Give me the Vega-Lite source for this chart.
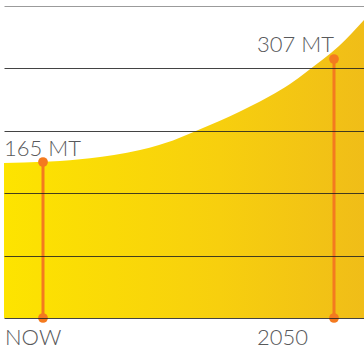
{
  "$schema": "https://vega.github.io/schema/vega-lite/v6.json",
  "autosize": "none",
  "width": 360,
  "height": 312,
  "padding": {"left": 4, "top": 6, "right": 0, "bottom": 31},
  "background": "white",
  "config": {"view": {"stroke": null}},
  "datasets": {
    "curve": [
      {"x": 0, "v": 155},
      {"x": 20, "v": 155.4},
      {"x": 46, "v": 156.4},
      {"x": 66, "v": 157.8},
      {"x": 86, "v": 159.7},
      {"x": 110, "v": 163},
      {"x": 136, "v": 168},
      {"x": 155, "v": 173},
      {"x": 169, "v": 177.5},
      {"x": 186, "v": 184.5},
      {"x": 206, "v": 193},
      {"x": 226, "v": 201.8},
      {"x": 246, "v": 211.5},
      {"x": 266, "v": 222},
      {"x": 286, "v": 234},
      {"x": 303, "v": 246.5},
      {"x": 320, "v": 259.5},
      {"x": 335, "v": 272},
      {"x": 348, "v": 285},
      {"x": 360, "v": 298}
    ],
    "markers": [
      {"period": "NOW", "x": 39, "v": 156, "label": "165 MT"},
      {"period": "2050", "x": 330, "v": 259, "label": "307 MT"}
    ],
    "labels": [
      {"text": "165 MT", "x": 0, "y": 162, "side": "left"},
      {"text": "307 MT", "x": 330, "y": 266, "side": "right"},
      {"text": "NOW", "x": 1, "y": -27, "side": "left"},
      {"text": "2050", "x": 253, "y": -27, "side": "left"}
    ]
  },
  "layer": [
    {
      "data": {"name": "curve"},
      "mark": {
        "type": "area",
        "interpolate": "monotone",
        "color": {
          "gradient": "linear",
          "x1": 0, "y1": 0, "x2": 1, "y2": 0,
          "stops": [
            {"offset": 0, "color": "#FDE400"},
            {"offset": 0.6, "color": "#F7CF0E"},
            {"offset": 1, "color": "#F0BD18"}
          ]
        }
      },
      "encoding": {
        "x": {"field": "x", "type": "quantitative", "scale": {"domain": [0, 360], "nice": false, "zero": false}, "axis": null},
        "y": {
          "field": "v", "type": "quantitative",
          "scale": {"domain": [0, 312], "nice": false},
          "axis": {
            "values": [0, 62.4, 124.8, 187.2, 249.6, 312],
            "labels": false, "ticks": false, "domain": false, "title": null,
            "zindex": 1,
            "gridColor": {"condition": {"test": "datum.value > 300", "value": "#8a8a8a"}, "value": "#222222"},
            "gridOpacity": 0.85,
            "gridWidth": 1
          }
        }
      }
    },
    {
      "data": {"name": "markers"},
      "mark": {"type": "rule", "color": "#F47A1F", "strokeWidth": 3, "opacity": 1},
      "encoding": {
        "x": {"field": "x", "type": "quantitative"},
        "y": {"field": "v", "type": "quantitative"},
        "y2": {"datum": 0}
      }
    },
    {
      "data": {"name": "markers"},
      "mark": {"type": "point", "filled": true, "color": "#F47A1F", "size": 95, "opacity": 1},
      "encoding": {
        "x": {"field": "x", "type": "quantitative"},
        "y": {"field": "v", "type": "quantitative"}
      }
    },
    {
      "data": {"name": "markers"},
      "mark": {"type": "point", "filled": true, "color": "#F47A1F", "size": 95, "opacity": 1},
      "encoding": {
        "x": {"field": "x", "type": "quantitative"},
        "y": {"datum": 0}
      }
    },
    {
      "data": {"name": "labels"},
      "transform": [{"filter": "datum.side == 'left'"}],
      "mark": {"type": "text", "align": "left", "baseline": "alphabetic", "font": "Lato", "fontSize": 22, "fontWeight": 300, "color": "#58595B", "clip": false},
      "encoding": {
        "x": {"field": "x", "type": "quantitative"},
        "y": {"field": "y", "type": "quantitative"},
        "text": {"field": "text"}
      }
    },
    {
      "data": {"name": "labels"},
      "transform": [{"filter": "datum.side == 'right'"}],
      "mark": {"type": "text", "align": "right", "baseline": "alphabetic", "font": "Lato", "fontSize": 22, "fontWeight": 300, "color": "#58595B", "clip": false},
      "encoding": {
        "x": {"field": "x", "type": "quantitative"},
        "y": {"field": "y", "type": "quantitative"},
        "text": {"field": "text"}
      }
    }
  ]
}
